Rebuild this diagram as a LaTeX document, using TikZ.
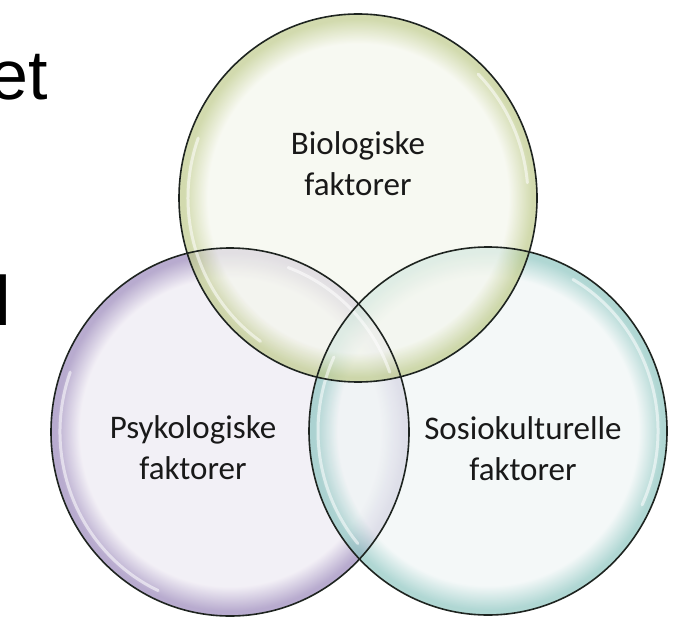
\documentclass[tikz,border=0pt]{standalone}
\usepackage{fontspec}
\usetikzlibrary{positioning, shapes.geometric}
\newfontfamily\labelfont{Carlito}
\newfontfamily\slidefont{Liberation Sans}

\definecolor{bioIn}{HTML}{F4F6EC}
\definecolor{bioRim}{HTML}{BFCB8C}
\definecolor{psyIn}{HTML}{EDE9F2}
\definecolor{psyRim}{HTML}{9A88BA}
\definecolor{sosIn}{HTML}{EFF5F5}
\definecolor{sosRim}{HTML}{8EC6C1}
\definecolor{rimLine}{HTML}{1E2420}

\pgfdeclareradialshading{bioball}{\pgfpoint{0bp}{0bp}}{color(0bp)=(bioIn); color(21bp)=(bioIn); color(24.3bp)=(bioRim); color(25bp)=(bioRim); color(50bp)=(bioRim)}
\pgfdeclareradialshading{psyball}{\pgfpoint{0bp}{0bp}}{color(0bp)=(psyIn); color(21bp)=(psyIn); color(24.3bp)=(psyRim); color(25bp)=(psyRim); color(50bp)=(psyRim)}
\pgfdeclareradialshading{sosball}{\pgfpoint{0bp}{0bp}}{color(0bp)=(sosIn); color(21bp)=(sosIn); color(24.3bp)=(sosRim); color(25bp)=(sosRim); color(50bp)=(sosRim)}

\begin{document}
\begin{tikzpicture}[x=1pt, y=-1pt, every node/.style={align=center, inner sep=0pt},
    bubble/.style={ellipse, shade, fill opacity=0.7,
        minimum width=358pt, minimum height=368pt},
    outline/.style={draw=rimLine, line width=1.6pt},
    gloss/.style={white, line width=3pt, opacity=0.55, line cap=round},
    factor/.style={font=\labelfont\fontsize{33}{41}\selectfont, text=black!90}]
    \useasboundingbox (0,0) rectangle (679,617);

    % cut-off slide text
    \node (slideA) [anchor=base east, font=\slidefont\fontsize{70}{70}\selectfont] at (48,100) {et};
    \node (slideB) [anchor=base east, font=\slidefont\fontsize{70}{70}\selectfont] at (11,325) {l};

    % bubbles
    \node (psy) [bubble, shading=psyball] at (230,432) {};
    \node (sos) [bubble, shading=sosball] at (488,431) {};
    \node (bio) [bubble, shading=bioball] at (358,198) {};

    % gloss
    \draw[gloss] (psy.center) ++(115:170 and 175) arc[start angle=115, end angle=200, x radius=170, y radius=175];
    \draw[gloss] (psy.center) ++(-70:170 and 175) arc[start angle=-70, end angle=-20, x radius=170, y radius=175];
    \draw[gloss] (sos.center) ++(140:170 and 175) arc[start angle=140, end angle=205, x radius=170, y radius=175];
    \draw[gloss] (sos.center) ++(-60:170 and 175) arc[start angle=-60, end angle=25, x radius=170, y radius=175];
    \draw[gloss] (bio.center) ++(125:170 and 175) arc[start angle=125, end angle=200, x radius=170, y radius=175];
    \draw[gloss] (bio.center) ++(-45:170 and 175) arc[start angle=-45, end angle=-5, x radius=170, y radius=175];

    % outlines
    \foreach \b in {psy, sos, bio}
        \draw[outline] (\b.center) ellipse [x radius=179, y radius=184];

    % labels
    \node (bioText) [factor] at ([yshift=34pt]bio.center) {Biologiske\\faktorer};
    \node (psyText) [factor] at ([xshift=-37pt, yshift=-16pt]psy.center) {Psykologiske\\faktorer};
    \node (sosText) [factor] at ([xshift=35pt, yshift=-18pt]sos.center) {Sosiokulturelle\\faktorer};
\end{tikzpicture}
\end{document}
